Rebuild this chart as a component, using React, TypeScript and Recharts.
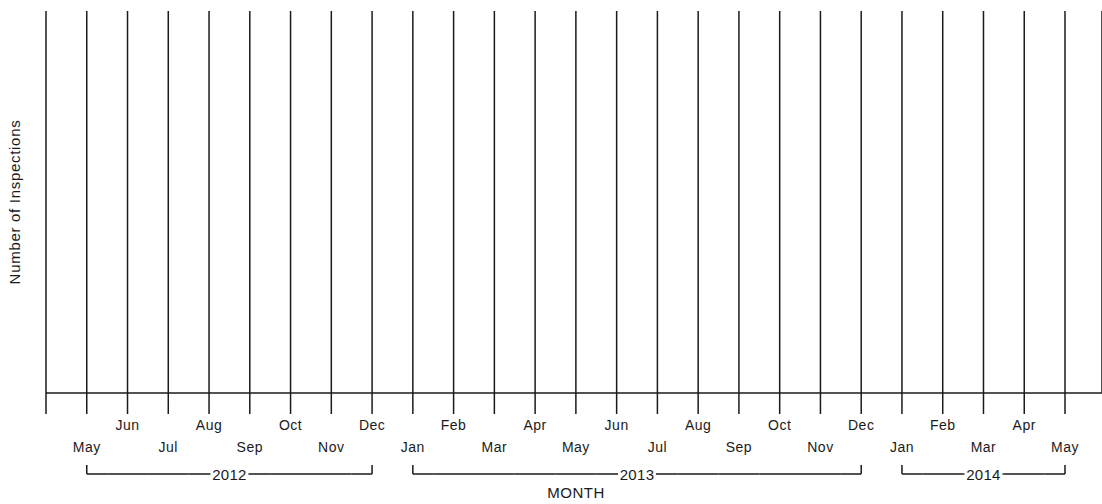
import React from "react";
import { LineChart, Line, XAxis, YAxis, CartesianGrid } from "recharts";

// ---- data ----
const categories = [
  "", "2012-05", "2012-06", "2012-07", "2012-08", "2012-09", "2012-10", "2012-11", "2012-12",
  "2013-01", "2013-02", "2013-03", "2013-04", "2013-05", "2013-06", "2013-07", "2013-08",
  "2013-09", "2013-10", "2013-11", "2013-12", "2014-01", "2014-02", "2014-03", "2014-04", "2014-05",
];
const monthLabels = [
  "", "May", "Jun", "Jul", "Aug", "Sep", "Oct", "Nov", "Dec",
  "Jan", "Feb", "Mar", "Apr", "May", "Jun", "Jul", "Aug",
  "Sep", "Oct", "Nov", "Dec", "Jan", "Feb", "Mar", "Apr", "May",
];
const inspections: (number | null)[] = [
  null, null, null, null, null, null, null, null, null,
  null, null, null, null, null, null, null, null,
  null, null, null, null, null, null, null, null, null,
];
const yearGroups = [
  { label: "2012", from: 1, to: 8 },
  { label: "2013", from: 9, to: 20 },
  { label: "2014", from: 21, to: 25 },
];

const data = categories.map((c, i) => ({ month: c, inspections: inspections[i] }));

// ---- layout ----
const W = 1102;
const H = 504;
const LEFT = 46;
const TOP = 11;
const PAD_R = 37;
const AXIS_H = 111;
const STEP = (W - LEFT - PAD_R) / (categories.length - 1);
const INK = "#1a1a1a";
const FONT = "'Liberation Sans', Arial, sans-serif";

const MonthTick = (props: any) => {
  const { x, y, payload } = props;
  const idx = categories.indexOf(payload.value);
  const label = monthLabels[idx] ?? "";
  const bottomRow = idx % 2 === 1;
  const parts: React.ReactNode[] = [];
  parts.push(
    <text
      key="m"
      x={x}
      y={y + (bottomRow ? 38 : 16)}
      textAnchor="middle"
      fontFamily={FONT}
      fontSize={14}
      letterSpacing={0.5}
      fill={INK}
    >
      {label}
    </text>
  );
  const g = yearGroups.find((gr) => idx >= gr.from && idx <= gr.to);
  if (g) {
    const lineY = y + 60;
    const topY = y + 51;
    const mid = x + ((g.from + g.to) / 2 - idx) * STEP;
    const gap1 = mid - 19;
    const gap2 = mid + 19;
    const a = idx === g.from ? x : x - STEP / 2;
    const b = idx === g.to ? x : x + STEP / 2;
    if (a < gap1) parts.push(<line key="s1" x1={a} x2={Math.min(b, gap1)} y1={lineY} y2={lineY} stroke={INK} strokeWidth={1.5} />);
    if (b > gap2) parts.push(<line key="s2" x1={Math.max(a, gap2)} x2={b} y1={lineY} y2={lineY} stroke={INK} strokeWidth={1.5} />);
    if (idx === g.from || idx === g.to) {
      parts.push(<line key="v" x1={x} x2={x} y1={topY} y2={lineY} stroke={INK} strokeWidth={1.5} />);
    }
    if (idx === Math.floor((g.from + g.to) / 2)) {
      parts.push(
        <text
          key="y"
          x={mid}
          y={lineY + 5.5}
          textAnchor="middle"
          fontFamily={FONT}
          fontSize={15}
          letterSpacing={0.3}
          fill={INK}
        >
          {g.label}
        </text>
      );
    }
  }
  return <g>{parts}</g>;
};

const XLabel = (props: any) => {
  const vb = props.viewBox || {};
  return (
    <text
      x={vb.x + vb.width / 2 + 2}
      y={498}
      textAnchor="middle"
      fontFamily={FONT}
      fontSize={15}
      letterSpacing={0.5}
      fill={INK}
    >
      MONTH
    </text>
  );
};

const YLabel = (props: any) => {
  const vb = props.viewBox || {};
  const cx = 20;
  const cy = vb.y + vb.height / 2;
  return (
    <text
      x={cx}
      y={cy}
      transform={`rotate(-90 ${cx} ${cy})`}
      textAnchor="middle"
      fontFamily={FONT}
      fontSize={15}
      letterSpacing={0.7}
      fill={INK}
    >
      Number of Inspections
    </text>
  );
};

export default function App() {
  return (
    <div style={{ position: "absolute", left: 0, top: 0, width: W, height: H, background: "#fff" }}>
      <LineChart width={W} height={H} data={data} margin={{ top: TOP, right: 0, left: 0, bottom: 0 }}>
        <CartesianGrid horizontal={false} vertical={true} stroke={INK} strokeWidth={1.5} />
        <XAxis
          dataKey="month"
          scale="point"
          type="category"
          interval={0}
          padding={{ left: 0, right: PAD_R }}
          height={AXIS_H}
          tickSize={21}
          tickMargin={0}
          tick={<MonthTick />}
          tickLine={{ stroke: INK, strokeWidth: 1.5 }}
          axisLine={{ stroke: INK, strokeWidth: 1.5 }}
          label={<XLabel />}
        />
        <YAxis
          width={LEFT}
          domain={[0, 10]}
          axisLine={false}
          tickLine={false}
          tick={false}
          label={<YLabel />}
        />
        <Line dataKey="inspections" stroke={INK} dot={false} isAnimationActive={false} connectNulls={false} />
      </LineChart>
    </div>
  );
}
